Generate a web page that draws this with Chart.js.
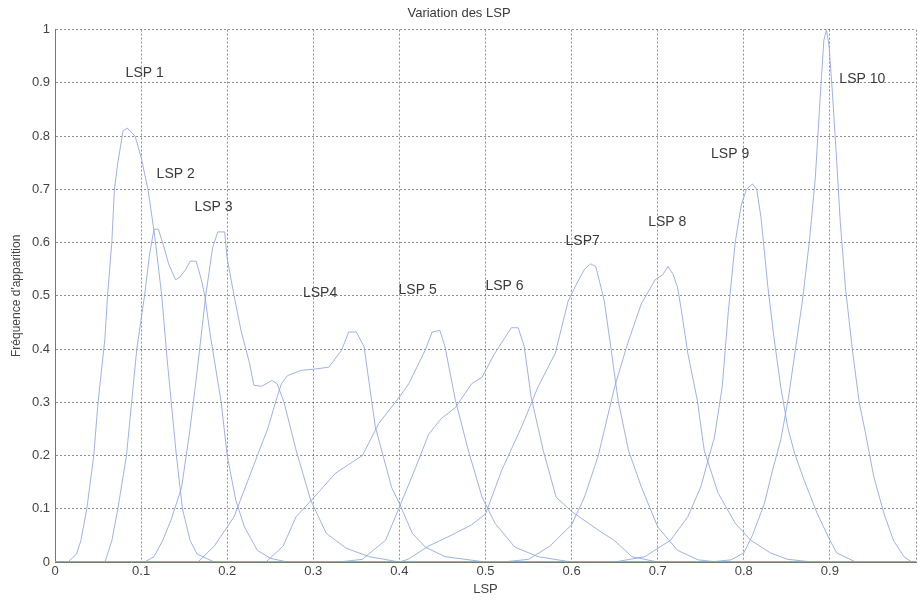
<!DOCTYPE html>
<html>
<head>
<meta charset="utf-8">
<script src="https://cdn.jsdelivr.net/npm/chart.js@4/dist/chart.umd.min.js"></script>
<style>
  body { margin: 0; background: #fff; overflow: hidden; }
  #wrap { width: 918px; height: 600px; }
</style>
</head>
<body>
<div id="wrap"><canvas id="lspChart" width="918" height="600"></canvas></div>
<script>
// courbes (x = LSP, y = fréquence d'apparition)
const lsp1X = [0, 0.015, 0.025, 0.03, 0.037, 0.045, 0.05, 0.054, 0.058, 0.061, 0.066, 0.069, 0.073, 0.079, 0.084, 0.09, 0.093, 0.1, 0.108, 0.116, 0.124, 0.13, 0.135, 0.141, 0.148, 0.157, 0.165, 0.185, 1];
const lsp1Y = [0, 0, 0.015, 0.04, 0.1, 0.2, 0.3, 0.36, 0.42, 0.5, 0.6, 0.7, 0.75, 0.81, 0.815, 0.805, 0.8, 0.76, 0.7, 0.61, 0.5, 0.385, 0.3, 0.2, 0.1, 0.04, 0.015, 0, 0];

const lsp2X = [0, 0.058, 0.066, 0.073, 0.083, 0.089, 0.095, 0.104, 0.11, 0.115, 0.12, 0.125, 0.132, 0.14, 0.145, 0.152, 0.157, 0.164, 0.17, 0.174, 0.18, 0.186, 0.193, 0.2, 0.21, 0.22, 0.235, 0.25, 0.27, 1];
const lsp2Y = [0, 0, 0.04, 0.1, 0.2, 0.3, 0.4, 0.5, 0.58, 0.625, 0.625, 0.6, 0.56, 0.53, 0.535, 0.55, 0.565, 0.565, 0.53, 0.5, 0.43, 0.37, 0.3, 0.2, 0.116, 0.066, 0.022, 0.007, 0, 1e-9];

const lsp3X = [0, 0.104, 0.115, 0.125, 0.135, 0.147, 0.156, 0.163, 0.168, 0.175, 0.183, 0.189, 0.197, 0.2, 0.208, 0.216, 0.226, 0.231, 0.24, 0.252, 0.258, 0.266, 0.28, 0.297, 0.315, 0.338, 0.365, 0.4, 1];
const lsp3Y = [0, 0, 0.01, 0.04, 0.08, 0.14, 0.24, 0.33, 0.4, 0.5, 0.59, 0.62, 0.62, 0.57, 0.5, 0.435, 0.373, 0.332, 0.33, 0.341, 0.335, 0.3, 0.21, 0.116, 0.054, 0.026, 0.01, 0, 0];

const lsp4X = [0, 0.166, 0.185, 0.208, 0.228, 0.247, 0.258, 0.263, 0.27, 0.286, 0.3, 0.318, 0.333, 0.341, 0.35, 0.359, 0.372, 0.391, 0.4, 0.415, 0.43, 0.453, 0.5, 1];
const lsp4Y = [0, 0, 0.03, 0.085, 0.17, 0.25, 0.31, 0.335, 0.35, 0.36, 0.362, 0.366, 0.398, 0.432, 0.432, 0.404, 0.254, 0.14, 0.11, 0.054, 0.028, 0.01, 0, 0];

const lsp5X = [0, 0.245, 0.265, 0.28, 0.3, 0.326, 0.357, 0.376, 0.4, 0.411, 0.43, 0.438, 0.447, 0.453, 0.465, 0.48, 0.496, 0.511, 0.534, 0.561, 0.6, 1];
const lsp5Y = [0, 0, 0.03, 0.085, 0.12, 0.167, 0.2, 0.26, 0.31, 0.335, 0.398, 0.432, 0.435, 0.404, 0.304, 0.21, 0.122, 0.073, 0.028, 0.01, 0, 0];

const lsp6X = [0, 0.33, 0.357, 0.384, 0.4, 0.419, 0.434, 0.449, 0.465, 0.484, 0.496, 0.51, 0.522, 0.53, 0.538, 0.545, 0.553, 0.567, 0.582, 0.6, 0.631, 0.65, 0.67, 0.7, 1];
const lsp6Y = [0, 0, 0.005, 0.041, 0.103, 0.178, 0.24, 0.27, 0.29, 0.335, 0.347, 0.39, 0.42, 0.44, 0.44, 0.405, 0.31, 0.21, 0.122, 0.095, 0.06, 0.04, 0.01, 0, 0];

const lsp7X = [0, 0.4, 0.41, 0.434, 0.46, 0.484, 0.5, 0.519, 0.542, 0.561, 0.581, 0.596, 0.605, 0.615, 0.622, 0.628, 0.632, 0.638, 0.646, 0.654, 0.666, 0.681, 0.7, 0.723, 0.747, 0.77, 1];
const lsp7Y = [0, 0, 0.005, 0.03, 0.05, 0.07, 0.09, 0.173, 0.254, 0.329, 0.392, 0.49, 0.52, 0.55, 0.56, 0.555, 0.53, 0.49, 0.398, 0.304, 0.21, 0.141, 0.066, 0.022, 0.004, 0, 0];

const lsp8X = [0, 0.52, 0.55, 0.575, 0.6, 0.615, 0.631, 0.65, 0.665, 0.681, 0.697, 0.706, 0.712, 0.718, 0.723, 0.727, 0.735, 0.746, 0.754, 0.77, 0.79, 0.808, 0.831, 0.851, 0.88, 1];
const lsp8Y = [0, 0, 0.005, 0.03, 0.07, 0.122, 0.2, 0.329, 0.41, 0.485, 0.53, 0.54, 0.555, 0.54, 0.516, 0.478, 0.392, 0.304, 0.21, 0.13, 0.073, 0.041, 0.017, 0.005, 0, 0];

const lsp9X = [0, 0.65, 0.685, 0.715, 0.735, 0.75, 0.766, 0.775, 0.782, 0.79, 0.797, 0.803, 0.81, 0.815, 0.82, 0.828, 0.835, 0.843, 0.851, 0.859, 0.87, 0.885, 0.9, 0.908, 0.93, 1];
const lsp9Y = [0, 0, 0.01, 0.041, 0.085, 0.141, 0.235, 0.33, 0.47, 0.6, 0.67, 0.7, 0.71, 0.7, 0.647, 0.516, 0.422, 0.328, 0.253, 0.204, 0.154, 0.092, 0.041, 0.017, 0, 0];

const lsp10X = [0, 0.76, 0.785, 0.8, 0.81, 0.824, 0.833, 0.843, 0.852, 0.86, 0.868, 0.876, 0.883, 0.889, 0.893, 0.896, 0.899, 0.903, 0.908, 0.912, 0.918, 0.926, 0.934, 0.941, 0.951, 0.963, 0.974, 0.986, 0.995, 1];
const lsp10Y = [0, 0, 0.004, 0.017, 0.05, 0.11, 0.17, 0.23, 0.31, 0.4, 0.49, 0.6, 0.72, 0.88, 0.98, 1, 0.97, 0.88, 0.75, 0.64, 0.516, 0.4, 0.3, 0.245, 0.16, 0.09, 0.04, 0.01, 0, 0];

// étiquettes LSP placées sur le graphe (coin gauche, milieu du texte)
const labelTexts = ['LSP 1', 'LSP 2', 'LSP 3', 'LSP4', 'LSP 5', 'LSP 6', 'LSP7', 'LSP 8', 'LSP 9', 'LSP 10'];
const labelX = [0.082, 0.118, 0.162, 0.288, 0.399, 0.5, 0.593, 0.689, 0.762, 0.911];
const labelY = [0.918, 0.729, 0.667, 0.505, 0.511, 0.518, 0.603, 0.638, 0.766, 0.907];

const curves = [
    [lsp1X, lsp1Y], [lsp2X, lsp2Y], [lsp3X, lsp3Y], [lsp4X, lsp4Y], [lsp5X, lsp5Y],
    [lsp6X, lsp6Y], [lsp7X, lsp7Y], [lsp8X, lsp8Y], [lsp9X, lsp9Y], [lsp10X, lsp10Y]
];

const lineColor = 'rgba(140, 165, 225, 0.85)';
const textFont = '"Liberation Sans", Arial, sans-serif';

const lspLabels = {
    id: 'lspLabels',
    afterDatasetsDraw(chart) {
        const {ctx, scales: {x, y}} = chart;
        ctx.save();
        ctx.font = '14px ' + textFont;
        ctx.fillStyle = '#3a3a3a';
        ctx.textAlign = 'left';
        ctx.textBaseline = 'middle';
        labelTexts.forEach((t, i) => {
            ctx.fillText(t, x.getPixelForValue(labelX[i]), y.getPixelForValue(labelY[i]));
        });
        ctx.restore();
    }
};

function tickText(v) {
    const r = Math.round(v * 10) / 10;
    return String(r);
}

new Chart(document.getElementById('lspChart').getContext('2d'), {
    type: 'line',
    data: {
        datasets: curves.map(([xs, ys], i) => ({
            label: labelTexts[i],
            data: xs.map((xv, j) => ({x: xv, y: ys[j]})),
            borderColor: lineColor,
            borderWidth: 1,
            pointRadius: 0,
            tension: 0,
            fill: false
        }))
    },
    options: {
        responsive: false,
        animation: false,
        devicePixelRatio: 1,
        layout: {padding: 0},
        plugins: {
            legend: {display: false},
            tooltip: {enabled: false},
            title: {
                display: true,
                text: 'Variation des LSP',
                color: '#3a3a3a',
                font: {family: textFont, size: 13, weight: 'normal'},
                padding: {top: 6, bottom: 8}
            }
        },
        scales: {
            x: {
                type: 'linear',
                min: 0,
                max: 1,
                afterFit: s => { s.height = 38; },
                ticks: {
                    stepSize: 0.1,
                    padding: 2,
                    color: '#444',
                    font: {family: textFont, size: 13},
                    maxRotation: 0,
                    callback: v => (v >= 0.999 ? '' : tickText(v))
                },
                grid: {color: 'rgba(70, 70, 70, 0.6)', lineWidth: 1, drawTicks: false},
                border: {display: true, color: '#777', width: 1, dash: [2, 2]},
                title: {
                    display: true,
                    text: 'LSP',
                    color: '#444',
                    font: {family: textFont, size: 13},
                    padding: {top: 0, bottom: 3}
                }
            },
            y: {
                min: 0,
                max: 1,
                afterFit: s => { s.width = 55; },
                ticks: {
                    stepSize: 0.1,
                    padding: 5,
                    color: '#444',
                    font: {family: textFont, size: 13},
                    callback: v => tickText(v)
                },
                grid: {color: 'rgba(70, 70, 70, 0.6)', lineWidth: 1, drawTicks: false},
                border: {display: true, color: '#777', width: 1, dash: [2, 2]},
                title: {
                    display: true,
                    text: 'Fréquence d\'apparition',
                    color: '#444',
                    font: {family: textFont, size: 12},
                    padding: {top: 9, bottom: 0}
                }
            }
        }
    },
    plugins: [lspLabels]
});
</script>
</body>
</html>
